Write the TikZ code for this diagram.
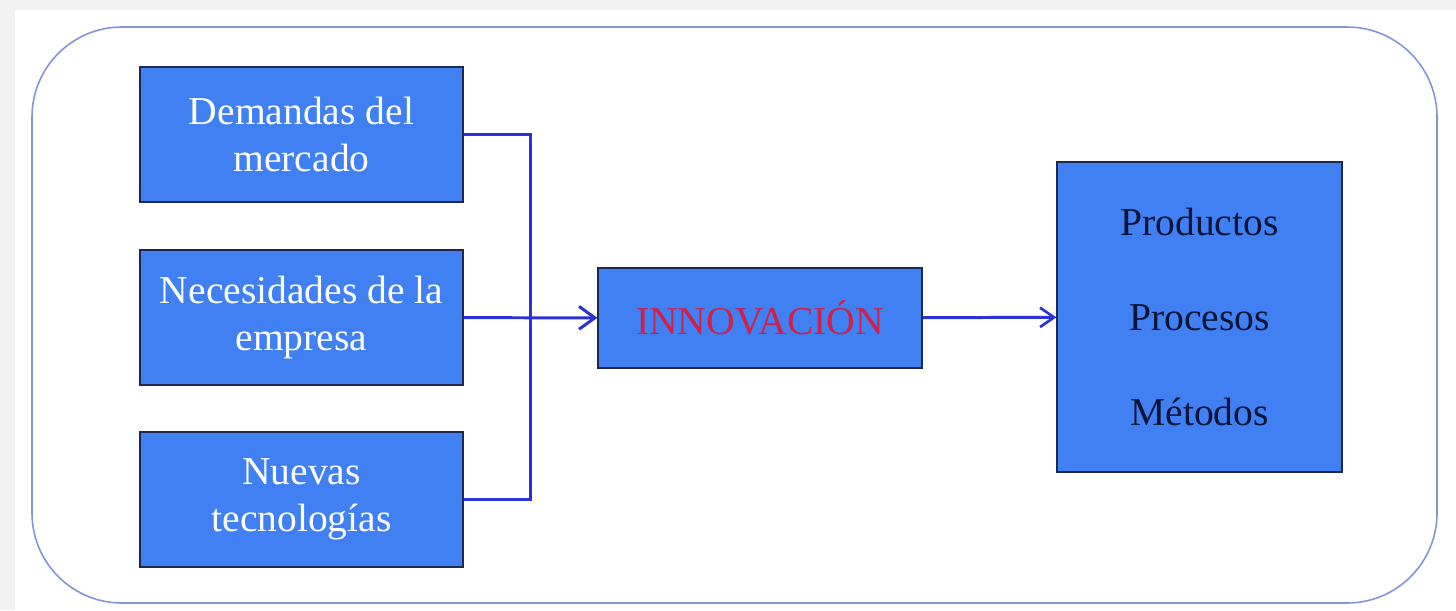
\documentclass[tikz,border=0pt]{standalone}
\usepackage{fontspec}
\setmainfont{Liberation Serif}
\usetikzlibrary{arrows.meta,shadows}
\definecolor{boxblue}{HTML}{4080F2}
\definecolor{boxedge}{HTML}{1C2850}
\definecolor{linkblue}{HTML}{2A32D8}
\definecolor{framecol}{HTML}{8494D8}
\definecolor{innored}{HTML}{D0204A}
\definecolor{darktext}{HTML}{0A1438}
\begin{document}
\begin{tikzpicture}[x=0.02cm,y=-0.02cm]
	
	% Style for the boxes
	\tikzstyle{box}=[
	rectangle,
	draw=boxedge,
	line width=0.7pt,
	fill=boxblue,
	drop shadow={opacity=0.35,shadow xshift=0.6pt,shadow yshift=-0.8pt},
	inner sep=0pt,
	align=center,
	font=\fontsize{22.5}{27}\selectfont
	]
	\tikzstyle{link}=[
	draw=linkblue,
	line width=1.7pt
	]
	% background and frame
	\fill[gray!10] (0,0) rectangle (1456,610);
	\fill[white] (15,10) rectangle (1456,610);
	\draw[framecol,line width=0.9pt,rounded corners=1.8cm] (32,27) rectangle (1437,603);
	% --- left column ---
	\node[box,text=white,minimum width=6.46cm,minimum height=2.7cm] (DM) at (301.5,134.5) {Demandas del\\ mercado};
	\node[box,text=white,minimum width=6.46cm,minimum height=2.7cm] (NE) at (301.5,317.5) {Necesidades de la\\ empresa};
	\node[box,text=white,minimum width=6.46cm,minimum height=2.7cm] (NT) at (301.5,499.5) {Nuevas\\ tecnologías};
	% --- middle and right ---
	\node[box,text=innored,minimum width=6.48cm,minimum height=2cm] (INN) at (760,318) {INNOVACIÓN};
	\node[box,text=darktext,minimum width=5.7cm,minimum height=6.2cm,font=\fontsize{22.5}{54}\selectfont] (RES) at (1199.5,317) {Productos\\ Procesos\\ Métodos};
	\coordinate (J) at (530,318);
	\draw[link] (DM) -| (J);
	\draw[link] (NT) -| (J);
	\draw[link,-{Straight Barb[length=9pt,width=13pt,line width=1.7pt]}] (NE) -- (INN);
	\draw[link,-{Straight Barb[length=8pt,width=11pt,line width=1.5pt]}] (INN) -- (RES);
\end{tikzpicture}
\end{document}
